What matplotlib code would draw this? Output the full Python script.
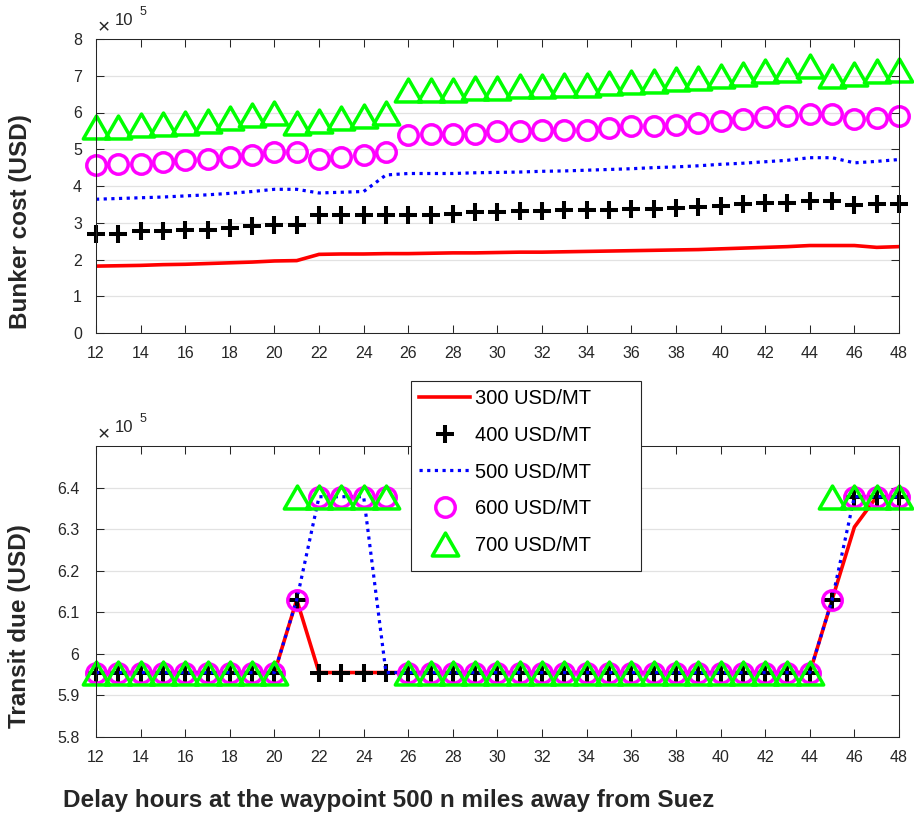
import matplotlib
matplotlib.use("Agg")
import matplotlib.pyplot as plt
from matplotlib.patches import Rectangle
from matplotlib.path import Path
from matplotlib.ticker import FuncFormatter

plt.rcParams.update({"font.family": ["Liberation Sans", "DejaVu Sans"], "font.size": 11.5})

W, H = 914, 816
INK = "#262626"

# delay hours at the waypoint
hours = [12, 13, 14, 15, 16, 17, 18, 19, 20, 21, 22, 23, 24, 25, 26, 27, 28, 29, 30,
         31, 32, 33, 34, 35, 36, 37, 38, 39, 40, 41, 42, 43, 44, 45, 46, 47, 48]
prices = ["300 USD/MT", "400 USD/MT", "500 USD/MT", "600 USD/MT", "700 USD/MT"]

# bunker cost, x1e5 USD
bunker_300 = [1.82, 1.83, 1.84, 1.86, 1.87, 1.89, 1.91, 1.93, 1.96, 1.97,
              2.14, 2.15, 2.15, 2.16, 2.16, 2.17, 2.18, 2.18, 2.19, 2.20, 2.20, 2.21, 2.22,
              2.23, 2.24, 2.25, 2.26, 2.27, 2.29, 2.31, 2.33, 2.35, 2.38, 2.38, 2.38, 2.33, 2.35]
bunker_400 = [2.70, 2.70, 2.77, 2.77, 2.81, 2.81, 2.86, 2.90, 2.95, 2.95,
              3.20, 3.22, 3.22, 3.22, 3.22, 3.22, 3.25, 3.29, 3.29, 3.32, 3.32, 3.36, 3.36,
              3.36, 3.38, 3.38, 3.40, 3.43, 3.45, 3.50, 3.54, 3.54, 3.58, 3.58, 3.47, 3.50, 3.52]
bunker_500 = [3.64, 3.66, 3.68, 3.70, 3.73, 3.76, 3.80, 3.85, 3.91, 3.91,
              3.81, 3.83, 3.85, 4.30, 4.34, 4.34, 4.34, 4.36, 4.37, 4.38, 4.40, 4.41, 4.43,
              4.45, 4.47, 4.50, 4.52, 4.55, 4.59, 4.62, 4.66, 4.70, 4.77, 4.77, 4.63, 4.67, 4.72]
bunker_600 = [4.56, 4.59, 4.61, 4.65, 4.70, 4.73, 4.79, 4.83, 4.93, 4.93,
              4.73, 4.79, 4.83, 4.93, 5.38, 5.42, 5.42, 5.42, 5.49, 5.49, 5.53, 5.53, 5.53,
              5.58, 5.62, 5.62, 5.67, 5.71, 5.76, 5.83, 5.88, 5.90, 5.95, 5.95, 5.81, 5.85, 5.90]
bunker_700 = [5.61, 5.60, 5.65, 5.68, 5.72, 5.77, 5.85, 5.92, 6.00, 5.72,
              5.77, 5.85, 5.90, 6.00, 6.60, 6.61, 6.61, 6.66, 6.67, 6.71, 6.72, 6.76, 6.76,
              6.80, 6.84, 6.85, 6.91, 6.95, 6.98, 7.04, 7.13, 7.17, 7.27, 6.98, 7.05, 7.13, 7.17]

# transit due, x1e5 USD
transit_300 = [5.955, 5.955, 5.955, 5.955, 5.955, 5.955, 5.955, 5.955, 5.955, 6.13,
               5.955, 5.955, 5.955, 5.955, 5.955, 5.955, 5.955, 5.955, 5.955, 5.955, 5.955,
               5.955, 5.955, 5.955, 5.955, 5.955, 5.955, 5.955, 5.955, 5.955, 5.955, 5.955,
               5.955, 6.13, 6.305, 6.378, 6.378]
transit_400 = [5.955, 5.955, 5.955, 5.955, 5.955, 5.955, 5.955, 5.955, 5.955, 6.13,
               5.955, 5.955, 5.955, 5.955, 5.955, 5.955, 5.955, 5.955, 5.955, 5.955, 5.955,
               5.955, 5.955, 5.955, 5.955, 5.955, 5.955, 5.955, 5.955, 5.955, 5.955, 5.955,
               5.955, 6.13, 6.378, 6.378, 6.378]
transit_500 = [5.955, 5.955, 5.955, 5.955, 5.955, 5.955, 5.955, 5.955, 5.955, 6.13,
               6.378, 6.378, 6.378, 5.955, 5.955, 5.955, 5.955, 5.955, 5.955, 5.955, 5.955,
               5.955, 5.955, 5.955, 5.955, 5.955, 5.955, 5.955, 5.955, 5.955, 5.955, 5.955,
               5.955, 6.13, 6.378, 6.378, 6.378]
transit_600 = [5.955, 5.955, 5.955, 5.955, 5.955, 5.955, 5.955, 5.955, 5.955, 6.13,
               6.378, 6.378, 6.378, 6.378, 5.955, 5.955, 5.955, 5.955, 5.955, 5.955, 5.955,
               5.955, 5.955, 5.955, 5.955, 5.955, 5.955, 5.955, 5.955, 5.955, 5.955, 5.955,
               5.955, 6.13, 6.378, 6.378, 6.378]
transit_700 = [5.955, 5.955, 5.955, 5.955, 5.955, 5.955, 5.955, 5.955, 5.955, 6.378,
               6.378, 6.378, 6.378, 6.378, 5.955, 5.955, 5.955, 5.955, 5.955, 5.955, 5.955,
               5.955, 5.955, 5.955, 5.955, 5.955, 5.955, 5.955, 5.955, 5.955, 5.955, 5.955,
               5.955, 6.378, 6.378, 6.378, 6.378]

TRI = Path([(0, 1), (-1.15, -1), (1.15, -1), (0, 1)], closed=True)
styles = [dict(color="#ff0000", lw=2.6, ls="-"),
          dict(color="k", ls="none", marker="+", ms=13.5, mew=2.9, clip_on=False),
          dict(color="#0000ff", lw=2.3, ls=(0, (1, 1.4)), dash_capstyle="butt"),
          dict(color="#ff00ff", ls="none", marker="o", ms=14, mew=2.5, mfc="none", clip_on=False),
          dict(color="#00ff00", ls="none", marker=TRI, ms=19, mew=2.5, mfc="none", clip_on=False)]

fig = plt.figure(figsize=(W / 100, H / 100), dpi=100)

def px_axes(l, t, r, b):
    return fig.add_axes([l / W, 1 - b / H, (r - l) / W, (b - t) / H])

def style_axes(ax, ylim, yticks, ypad):
    ax.set_xlim(12, 48); ax.set_xticks(range(12, 49, 2))
    ax.set_ylim(*ylim); ax.set_yticks(yticks)
    ax.yaxis.set_major_formatter(FuncFormatter(lambda v, p: f"{v:g}"))
    ax.yaxis.grid(True, color="#e2e2e2", lw=0.9); ax.set_axisbelow(True)
    ax.tick_params(direction="in", top=True, right=True, length=6, width=0.75,
                   colors=INK, labelsize=11.5)
    ax.tick_params(axis="x", pad=9.5); ax.tick_params(axis="y", pad=ypad)
    for s in ax.spines.values():
        s.set_color(INK); s.set_linewidth(0.75)
    # MATLAB style exponent label
    kw = dict(xycoords="axes fraction", textcoords="offset points", color=INK, annotation_clip=False)
    ax.annotate("\u00d7", (0, 1), xytext=(5.8, 7.9), ha="center", va="center", fontsize=15, **kw)
    ax.annotate("10", (0, 1), xytext=(13.7, 13), ha="left", va="center", fontsize=12, **kw)
    ax.annotate("5", (0, 1), xytext=(31.5, 19.4), ha="left", va="center", fontsize=9, **kw)

ax1 = px_axes(96, 39, 899, 333)
ax2 = px_axes(96, 446, 899, 737)

for ys, st in zip([bunker_300, bunker_400, bunker_500, bunker_600, bunker_700], styles):
    ax1.plot(hours, ys, **st)
for ys, st in zip([transit_300, transit_400, transit_500, transit_600, transit_700], styles):
    ax2.plot(hours, ys, **st)

style_axes(ax1, (0, 8), [0, 1, 2, 3, 4, 5, 6, 7, 8], 10)
style_axes(ax2, (5.8, 6.5), [5.8, 5.9, 6.0, 6.1, 6.2, 6.3, 6.4], 12)

lab = dict(fontsize=17.5, fontweight="bold", color=INK)
fig.text(21 / W, 1 - 221.5 / H, "Bunker cost (USD)", rotation=90, ha="center", va="center", **lab)
fig.text(20 / W, 1 - 626 / H, "Transit due (USD)", rotation=90, ha="center", va="center", **lab)
fig.text(388.5 / W, 1 - 807 / H, "Delay hours at the waypoint 500 n miles away from Suez",
         ha="center", va="baseline", **lab)

# legend box (white, covering the lower axes)
fig.add_artist(Rectangle((411 / W, 1 - 571 / H), 230 / W, 190 / H, transform=fig.transFigure,
                         fc="white", ec=INK, lw=0.8, zorder=4))
fig.legend(ax1.lines, prices, loc="upper left", bbox_to_anchor=(409 / W, 1 - 379 / H),
           frameon=False, borderpad=0, fontsize=14.5, handlelength=2.55, handletextpad=0.25,
           labelspacing=0.88, numpoints=1, labelcolor="k")

fig.savefig("out.png", dpi=100)
